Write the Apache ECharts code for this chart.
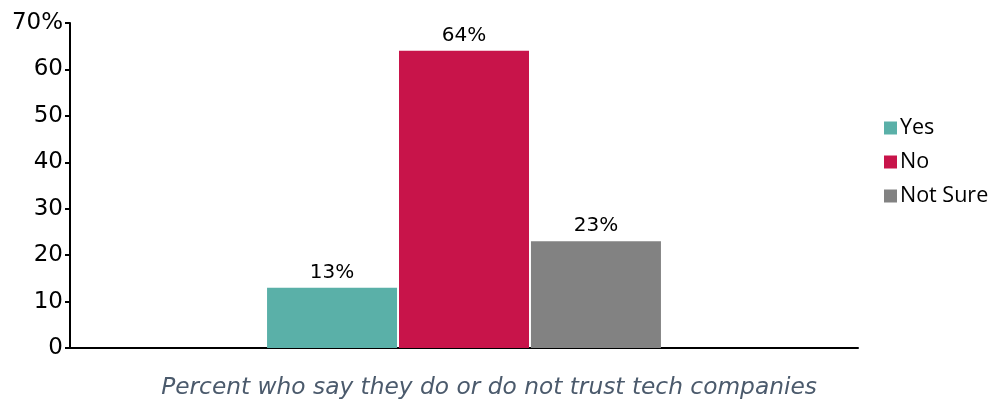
<!DOCTYPE html>
<html><head><meta charset="utf-8">
<script src="https://cdn.jsdelivr.net/npm/echarts@6/dist/echarts.min.js"></script>
<style>html,body{margin:0;padding:0;background:#fff}#c{width:995px;height:402px}</style>
</head><body><div id="c"></div>
<script>
const categories = ['Trust'];
const seriesNames = ['Yes', 'No', 'Not Sure'];
const values = [13, 64, 23];
const colors = ['#5AB0A8', '#C8144A', '#828282'];
const yTicks = [0, 10, 20, 30, 40, 50, 60, 70];
const caption = 'Percent who say they do or do not trust tech companies';

const chart = echarts.init(document.getElementById('c'));
chart.setOption({
  animation: false,
  grid: { left: 70, right: 137, top: 23, bottom: 54 },
  title: {
    text: caption, left: 484, top: 371, textAlign: 'center',
    textStyle: { fontFamily: 'DejaVu Sans', fontStyle: 'italic', fontWeight: 'normal', fontSize: 23.3, color: '#4B5A6C' }
  },
  legend: {
    orient: 'vertical', left: 884, top: 117, padding: 0, itemWidth: 13, itemHeight: 13, itemGap: 12,
    icon: 'rect',
    textStyle: { fontFamily: 'Open Sans', fontSize: 21.5, lineHeight: 21, color: '#000', padding: [0, 0, 0, -2] },
    data: seriesNames
  },
  xAxis: {
    type: 'category', data: categories,
    axisLine: { lineStyle: { color: '#000', width: 2 } },
    axisTick: { show: false }, axisLabel: { show: false }
  },
  yAxis: {
    type: 'value', min: 0, max: 70, interval: 10,
    axisLine: { show: true, lineStyle: { color: '#000', width: 2 } },
    axisTick: { show: true, length: 5, lineStyle: { color: '#000', width: 2 } },
    splitLine: { show: false },
    axisLabel: {
      margin: 7, fontFamily: 'DejaVu Sans', fontSize: 23, color: '#000',
      formatter: v => yTicks.includes(v) ? (v === 70 ? v + '%' : String(v)) : ''
    }
  },
  series: seriesNames.map((n, i) => ({
    name: n, type: 'bar', data: [values[i]],
    barWidth: 130, barGap: '1.5%',
    itemStyle: { color: colors[i] },
    label: { show: true, position: 'top', distance: 5, formatter: '{c}%', fontFamily: 'DejaVu Sans', fontSize: 20, color: '#000' }
  }))
});
</script></body></html>
